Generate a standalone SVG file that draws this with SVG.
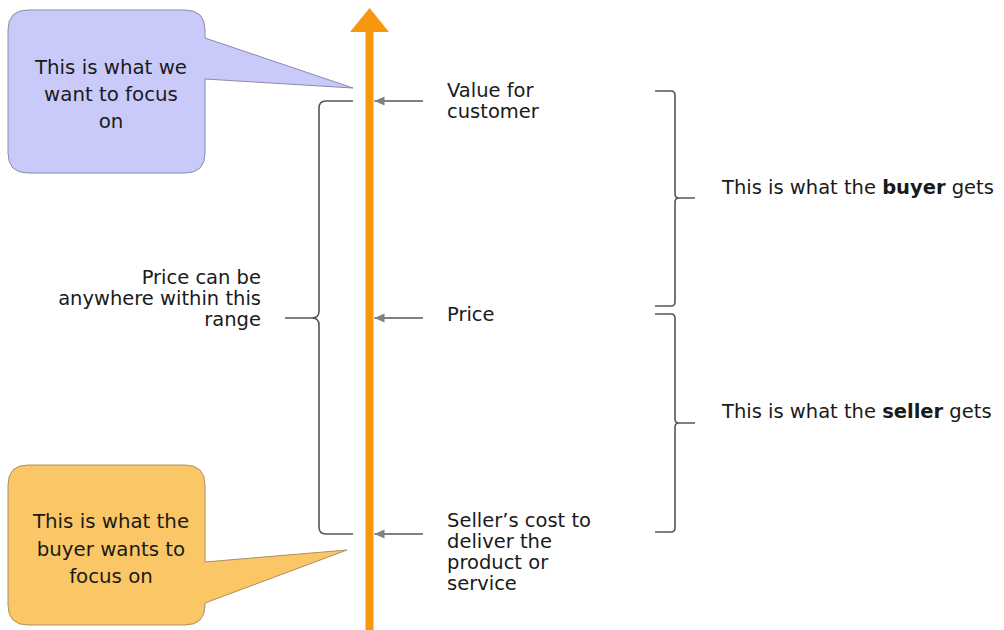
<svg xmlns="http://www.w3.org/2000/svg" width="1004" height="630" viewBox="0 0 1004 630">
<style>
text{font-family:"DejaVu Sans","Verdana",sans-serif;fill:#1a1a1a;}
.lbl{font-size:19.5px;}
.call{font-size:19.8px;text-anchor:middle;}
.brace{fill:none;stroke:#555;stroke-width:1.6;}
.ptr{stroke:#808080;stroke-width:2;marker-end:url(#ah);}
</style>
<defs>
<marker id="ah" markerWidth="12" markerHeight="12" refX="10" refY="6" orient="auto" markerUnits="userSpaceOnUse">
<path d="M0,1.5 L10,6 L0,10.5 Z" fill="#808080"/>
</marker>
</defs>
<rect width="1004" height="630" fill="#fff"/>
<g id="axis">
<rect x="365.5" y="30" width="8" height="600" fill="#f7960f"/>
<path d="M350,32 L369.5,8 L389,32 Z" fill="#f7960f"/>
</g>
<g id="callout-blue">
<path d="M28,10 H185 Q205,10 205,30 V38 L353,88 L205,79 V153 Q205,173 185,173 H28 Q8,173 8,153 V30 Q8,10 28,10 Z" fill="#cacafa" stroke="#8a8aa8" stroke-width="1"/>
<text class="call" x="111" y="74">This is what we</text>
<text class="call" x="111" y="101">want to focus</text>
<text class="call" x="111" y="128">on</text>
</g>
<g id="callout-orange">
<path d="M28,465 H185 Q205,465 205,485 V562 L347,550 L205,603 V605 Q205,625 185,625 H28 Q8,625 8,605 V485 Q8,465 28,465 Z" fill="#fbc766" stroke="#a89060" stroke-width="1"/>
<text class="call" x="111" y="528">This is what the</text>
<text class="call" x="111" y="556">buyer wants to</text>
<text class="call" x="111" y="583">focus on</text>
</g>
<g id="connectors">
<line class="ptr" x1="423" y1="101" x2="374.5" y2="101"/>
<line class="ptr" x1="423" y1="318" x2="374.5" y2="318"/>
<line class="ptr" x1="423" y1="534" x2="374.5" y2="534"/>
<path class="brace" d="M353,101 H326 Q319,101 319,108 V311 Q319,318 312,318 H285 M312,318 Q319,318 319,325 V527 Q319,534 326,534 H353"/>
<path class="brace" d="M655,91 H671 Q675,91 675,95 V194 Q675,198 679,198 H695 M679,198 Q675,198 675,202 V302 Q675,306 671,306 H655"/>
<path class="brace" d="M655,314 H671 Q675,314 675,318 V419 Q675,423 679,423 H695 M679,423 Q675,423 675,427 V528 Q675,532 671,532 H655"/>
</g>
<g id="label-value">
<text class="lbl" x="447" y="97">Value for</text>
<text class="lbl" x="447" y="118">customer</text>
</g>
<g id="label-price">
<text class="lbl" x="447" y="321">Price</text>
</g>
<g id="label-cost">
<text class="lbl" x="447" y="527">Seller’s cost to</text>
<text class="lbl" x="447" y="548">deliver the</text>
<text class="lbl" x="447" y="569">product or</text>
<text class="lbl" x="447" y="590">service</text>
</g>
<g id="label-range">
<text class="lbl" x="261" y="284" text-anchor="end">Price can be</text>
<text class="lbl" x="261" y="305" text-anchor="end">anywhere within this</text>
<text class="lbl" x="261" y="326" text-anchor="end">range</text>
</g>
<g id="label-buyer">
<text class="lbl" x="722" y="194">This is what the <tspan font-weight="bold">buyer</tspan> gets</text>
</g>
<g id="label-seller">
<text class="lbl" x="722" y="418">This is what the <tspan font-weight="bold">seller</tspan> gets</text>
</g>
</svg>
